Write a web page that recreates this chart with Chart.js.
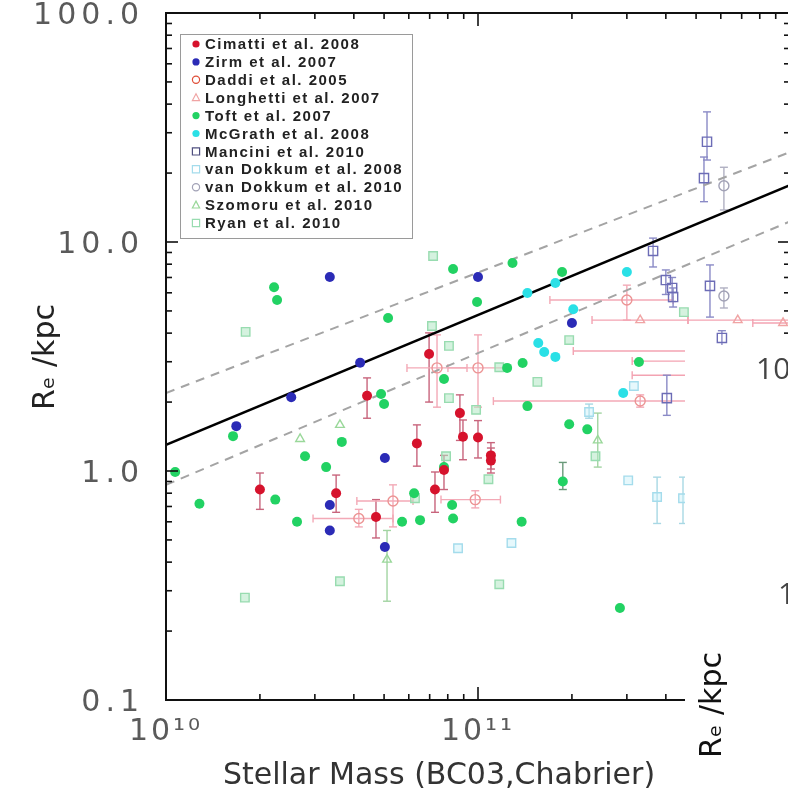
<!DOCTYPE html>
<html>
<head>
<meta charset="utf-8">
<style>
html,body{margin:0;padding:0;overflow:hidden;background:#fff;width:788px;height:801px}
canvas{display:block}
</style>
<script src="https://cdn.jsdelivr.net/npm/chart.js@4.4.1/dist/chart.umd.min.js"></script>
</head>
<body>
<canvas id="c" width="800" height="801"></canvas>
<script>
// ---- axis ticks / labels ----
const xTickValues = [1e10, 1e11, 1e12];
const xTickLabels = ['10¹⁰', '10¹¹', '10¹²'];
const yTickValues = [0.1, 1, 10, 100];
const yTickLabels = ['0.1', '1.0', '10.0', '100.0'];
const minorMult = [2, 3, 4, 5, 6, 7, 8, 9];

// ---- size-mass relation (endpoints) ----
const relMass  = [1e10, 1e12];
const relSolid = [1.30, 17.7];
const relUpper = [2.19, 24.7];
const relLower = [0.87, 12.3];

// ---- samples: [M*, Re, Re_lo, Re_hi, M_lo, M_hi] ----
const cimatti = [
  [2.0e10, 0.83, 0.68, 0.98], [4.41e10, 2.13, 1.70, 2.55], [6.97e10, 3.24, 2.00, 4.01],
  [6.37e10, 1.32, 1.05, 1.59], [8.75e10, 1.79, 1.36, 2.15], [8.95e10, 1.41, 1.12, 1.67],
  [1.00e11, 1.40, 1.14, 1.66], [1.10e11, 1.17, 1.02, 1.33], [1.10e11, 1.11, 0.98, 1.26],
  [7.28e10, 0.83, 0.66, 0.99], [7.78e10, 1.01, 0.83, 1.17], [3.51e10, 0.80, 0.66, 0.96],
  [4.71e10, 0.63, 0.51, 0.75]
];
const zirm = [
  [3.35e10, 7.03], [1.0e11, 7.03], [4.19e10, 2.97], [2.52e10, 2.10], [1.68e10, 1.57],
  [5.03e10, 1.14], [3.35e10, 0.71], [3.35e10, 0.55], [5.03e10, 0.466], [2.0e11, 4.43]
];
const daddi = [
  [7.39e10, 2.82, 1.90, 3.93, 5.92e10, 9.22e10], [1.00e11, 2.82, 1.90, 3.93, 8.01e10, 1.22e11],
  [3.00e11, 5.58, 4.56, 6.48, 1.70e11, 4.22e11], [3.31e11, 2.02, 1.90, 2.15, 1.12e11, 8.0e11],
  [4.15e10, 0.62, 0.57, 0.68, 2.96e10, 5.34e10], [5.34e10, 0.74, 0.57, 0.87, 4.09e10, 6.19e10],
  [9.80e10, 0.75, 0.69, 0.82, 7.61e10, 1.18e11]
];
const longhetti = [
  [3.31e11, 4.56, null, null, 2.32e11, 4.71e11], [6.8e11, 4.56, null, null, 4.71e11, 1.0e12],
  [9.5e11, 4.43, null, null, 7.6e11, 1.0e12], [7.0e11, 3.34, null, null, 2.02e11, 1.0e12],
  [6.5e11, 3.02, null, null, 3.12e11, 1.0e12], [6.0e11, 2.62, null, null, 3.12e11, 1.0e12]
];
const toft = [
  [1.07e10, 0.99], [1.28e10, 0.72], [2.22e10, 6.35], [2.27e10, 5.58], [1.64e10, 1.42],
  [5.15e10, 4.66], [8.32e10, 7.62], [1.29e11, 8.09], [9.93e10, 5.47], [4.89e10, 2.17],
  [5.0e10, 1.96], [3.66e10, 1.34], [2.79e10, 1.16], [3.26e10, 1.04], [2.24e10, 0.75],
  [2.63e10, 0.60], [5.71e10, 0.60], [6.52e10, 0.61], [6.24e10, 0.80], [7.78e10, 1.04],
  [8.26e10, 0.71], [8.32e10, 0.62], [7.78e10, 2.52], [1.24e11, 2.82], [1.39e11, 2.96],
  [1.44e11, 1.92], [1.96e11, 1.60], [2.24e11, 1.52], [3.28e11, 2.99], [1.87e11, 0.90, 0.83, 1.09],
  [1.38e11, 0.60], [2.85e11, 0.252], [1.86e11, 7.40]
];
const mcgrath = [
  [3.0e11, 7.40], [1.77e11, 6.62], [1.44e11, 5.99], [2.02e11, 5.09],
  [1.56e11, 3.62], [1.63e11, 3.31], [1.77e11, 3.15], [2.92e11, 2.19]
];
const mancini = [
  [5.42e11, 27.4, 22.8, 37.0], [5.30e11, 19.0, 15.0, 23.5], [3.64e11, 9.14, 7.78, 10.4],
  [4.00e11, 6.82, 5.9, 7.55], [4.19e11, 6.30, 5.5, 7.0], [4.22e11, 5.75, 5.2, 6.3],
  [5.54e11, 6.43, 4.70, 7.94], [6.05e11, 3.81, 3.5, 4.1], [4.03e11, 2.08, 1.75, 2.62]
];
const vanDokkum08 = [
  [3.16e11, 2.35], [2.27e11, 1.81, 1.70, 1.96], [3.03e11, 0.91], [3.75e11, 0.77, 0.59, 0.94],
  [4.54e11, 0.76, 0.59, 0.94], [8.63e10, 0.46], [1.28e11, 0.485]
];
const vanDokkum10 = [[6.14e11, 17.6, 13.8, 21.2], [6.14e11, 5.81, 5.15, 6.30]];
const szomoru = [[5.11e10, 0.41, 0.27, 0.55], [3.61e10, 1.59], [2.69e10, 1.38], [2.42e11, 1.36, 1.04, 1.79]];
const ryan = [
  [1.80e10, 4.05], [7.18e10, 8.69], [7.12e10, 4.30], [8.07e10, 3.52], [8.07e10, 2.08],
  [9.86e10, 1.85], [7.9e10, 1.16], [1.79e10, 0.28], [3.61e10, 0.33], [6.28e10, 0.76],
  [1.17e11, 0.32], [1.96e11, 3.73], [1.17e11, 2.84], [1.55e11, 2.45], [1.08e11, 0.92],
  [2.38e11, 1.16], [4.57e11, 4.94]
];

function pts(arr) {
  return arr.map(p => ({ x: p[0], y: p[1],
    yMin: p[2] ?? null, yMax: p[3] ?? null, xMin: p[4] ?? null, xMax: p[5] ?? null }));
}
function sample(label, arr, style, color, filled, r, extra) {
  return Object.assign({
    label, data: pts(arr), pointStyle: style, pointRadius: r,
    borderColor: color, backgroundColor: filled ? color : 'rgba(0,0,0,0)',
    borderWidth: filled ? 0 : 1.4, legendColor: color, legendFilled: filled, inLegend: true
  }, extra || {});
}

const datasets = [
  sample('Cimatti et al. 2008', cimatti, 'circle', '#d6122c', true, 5, { errColor: '#c8647c' }),
  sample('Zirm et al. 2007', zirm, 'circle', '#2b2bb6', true, 5),
  sample('Daddi et al. 2005', daddi, 'circle', '#ec9494', false, 5, { errColor: '#f3a9b6', legendColor: '#e0503a' }),
  sample('Longhetti et al. 2007', longhetti, 'triangle', '#f0a4a4', false, 5, { errColor: '#f3a3b2' }),
  sample('Toft et al. 2007', toft, 'circle', '#22d263', true, 5, { errColor: '#6a9a7a' }),
  sample('McGrath et al. 2008', mcgrath, 'circle', '#2ae0e6', true, 5),
  sample('Mancini et al. 2010', mancini, 'rect', '#6c6cb6', false, 6.5, { errColor: '#8a8ac6', legendColor: '#505080' }),
  sample('van Dokkum et al. 2008', vanDokkum08, 'rect', '#a4dcec', false, 6, { errColor: '#a8d8e4', backgroundColor: 'rgba(200,240,248,0.45)' }),
  sample('van Dokkum et al. 2010', vanDokkum10, 'circle', '#a2a2b6', false, 5, { errColor: '#b0b0c2' }),
  sample('Szomoru et al. 2010', szomoru, 'triangle', '#9ad89a', false, 5, { errColor: '#a2d4a2' }),
  sample('Ryan et al. 2010', ryan, 'rect', '#98dcb0', false, 6, { backgroundColor: 'rgba(178,232,196,0.55)' }),
  { label: 'relation', data: relMass.map((m, i) => ({ x: m, y: relSolid[i] })), showLine: true,
    borderColor: '#000', borderWidth: 2.6, pointRadius: 0, order: 10 },
  { label: 'relation +', data: relMass.map((m, i) => ({ x: m, y: relUpper[i] })), showLine: true,
    borderColor: '#a4a4a4', borderWidth: 2, borderDash: [9, 7], pointRadius: 0, order: 11 },
  { label: 'relation -', data: relMass.map((m, i) => ({ x: m, y: relLower[i] })), showLine: true,
    borderColor: '#a4a4a4', borderWidth: 2, borderDash: [9, 7], pointRadius: 0, order: 11 }
];

function seg(ctx, x1, y1, x2, y2) { ctx.beginPath(); ctx.moveTo(x1, y1); ctx.lineTo(x2, y2); ctx.stroke(); }

const errorBars = {
  id: 'errorBars',
  beforeDatasetsDraw(chart) {
    const { ctx, chartArea: a, scales: { x, y } } = chart;
    ctx.save();
    ctx.letterSpacing = '0px';
    ctx.beginPath(); ctx.rect(a.left, a.top, a.width, a.height); ctx.clip();
    chart.data.datasets.forEach(ds => {
      if (!ds.errColor) return;
      ctx.strokeStyle = ds.errColor; ctx.lineWidth = 1.4;
      ds.data.forEach(p => {
        const px = x.getPixelForValue(p.x), py = y.getPixelForValue(p.y);
        if (p.yMin != null) {
          const y1 = y.getPixelForValue(p.yMin), y2 = y.getPixelForValue(p.yMax);
          seg(ctx, px, y1, px, y2); seg(ctx, px - 4, y1, px + 4, y1); seg(ctx, px - 4, y2, px + 4, y2);
        }
        if (p.xMin != null) {
          const x1 = x.getPixelForValue(p.xMin), x2 = x.getPixelForValue(p.xMax);
          seg(ctx, x1, py, x2, py); seg(ctx, x1, py - 4, x1, py + 4); seg(ctx, x2, py - 4, x2, py + 4);
        }
      });
    });
    ctx.restore();
  }
};

// wider, IDL-like spacing of the tick labels
function spaced(scale, px) {
  if (scale._spacedWrap) return;
  const orig = scale.drawLabels.bind(scale);
  scale.drawLabels = function (ca) {
    const c = this.ctx, old = c.letterSpacing;
    c.letterSpacing = px;
    orig(ca);
    c.letterSpacing = old;
  };
  scale._spacedWrap = true;
}
const tickSpacing = {
  id: 'tickSpacing',
  beforeDraw(chart) {
    chart.ctx.letterSpacing = '0px';
    spaced(chart.scales.y, '5px');
    spaced(chart.scales.x, '3px');
  }
};

const frame = {
  id: 'frame',
  afterDatasetsDraw(chart) {
    const { ctx, chartArea: a, scales: { x, y } } = chart;
    ctx.save();
    ctx.strokeStyle = '#111'; ctx.lineWidth = 2;
    ctx.strokeRect(a.left, a.top, a.right - a.left, a.bottom - a.top);
    ctx.lineWidth = 1.6;
    for (let e = -1; e <= 2; e++) {
      [1].concat(minorMult).forEach(m => {
        const v = m * Math.pow(10, e);
        if (v > 100.0001) return;
        const py = y.getPixelForValue(v), len = m === 1 ? 12 : 6;
        seg(ctx, a.left, py, a.left + len, py); seg(ctx, a.right, py, a.right - len, py);
      });
    }
    for (let e = 10; e <= 12; e++) {
      [1].concat(minorMult).forEach(m => {
        const v = m * Math.pow(10, e);
        if (v > 1.0001e12) return;
        const px = x.getPixelForValue(v), len = m === 1 ? 13 : 6;
        seg(ctx, px, a.bottom, px, a.bottom - len); seg(ctx, px, a.top, px, a.top + len);
      });
    }
    ctx.restore();
  }
};

function marker(ctx, style, cx, cy, r, color, filled) {
  ctx.beginPath();
  if (style === 'circle') ctx.arc(cx, cy, r, 0, 2 * Math.PI);
  else if (style === 'rect') ctx.rect(cx - r, cy - r, 2 * r, 2 * r);
  else { ctx.moveTo(cx, cy - r * 1.1); ctx.lineTo(cx + r, cy + r * 0.8); ctx.lineTo(cx - r, cy + r * 0.8); ctx.closePath(); }
  if (filled) { ctx.fillStyle = color; ctx.fill(); }
  else { ctx.strokeStyle = color; ctx.lineWidth = 1.2; ctx.stroke(); }
}

const decor = {
  id: 'decor',
  afterDraw(chart) {
    const ctx = chart.ctx;
    ctx.save();
    // legend
    ctx.fillStyle = '#fff';
    ctx.fillRect(180, 34, 232, 204);
    ctx.strokeStyle = '#9a9a9a'; ctx.lineWidth = 1;
    ctx.strokeRect(180.5, 34.5, 232, 204);
    ctx.letterSpacing = '1.5px';
    ctx.font = 'bold 15px "Liberation Sans", Arial, sans-serif';
    ctx.textBaseline = 'middle'; ctx.textAlign = 'left';
    chart.data.datasets.filter(d => d.inLegend).forEach((d, i) => {
      const ly = 44 + i * 17.9;
      marker(ctx, d.pointStyle, 196, ly, 3.6, d.legendColor, d.legendFilled);
      ctx.fillStyle = '#222';
      ctx.fillText(d.label, 205, ly + 1);
    });
    ctx.letterSpacing = '0px';
    // axis titles
    ctx.fillStyle = '#333';
    ctx.font = '30px "DejaVu Sans", sans-serif';
    ctx.textAlign = 'center'; ctx.textBaseline = 'middle';
    ctx.fillText('Stellar Mass (BC03,Chabrier)', 439, 776);
    ctx.save();
    ctx.translate(46, 357); ctx.rotate(-Math.PI / 2);
    ctx.fillStyle = '#222';
    ctx.fillText('Rₑ /kpc', 0, 0);
    ctx.restore();
    // neighbouring panel pasted over the lower right corner
    ctx.fillStyle = '#fff';
    ctx.fillRect(685, 345, 120, 460);
    ctx.fillStyle = '#444';
    ctx.font = '30px "Open Sans", sans-serif';
    ctx.textAlign = 'left';
    ctx.fillText('10', 756, 370);
    ctx.fillText('1', 778, 595);
    ctx.save();
    ctx.translate(713, 705); ctx.rotate(-Math.PI / 2);
    ctx.fillStyle = '#111';
    ctx.font = '30px "DejaVu Sans", sans-serif';
    ctx.textAlign = 'center';
    ctx.fillText('Rₑ /kpc', 0, 0);
    ctx.restore();
    ctx.restore();
  }
};

const tickFont = { family: '"DejaVu Sans", sans-serif', size: 30 };

new Chart(document.getElementById('c'), {
  type: 'scatter',
  data: { datasets },
  options: {
    responsive: false, animation: false, devicePixelRatio: 1,
    layout: { padding: { top: 13, right: 10, left: 0, bottom: 0 } },
    plugins: { legend: { display: false }, tooltip: { enabled: false } },
    scales: {
      x: {
        type: 'logarithmic', position: 'bottom', min: 1e10, max: 1e12,
        grid: { display: false, drawTicks: false }, border: { display: false },
        afterBuildTicks: s => { s.ticks = xTickValues.map(v => ({ value: v })); },
        afterFit: s => { s.height = 101; s.paddingLeft = 0; s.paddingRight = 0; },
        ticks: { autoSkip: false, maxRotation: 0, minRotation: 0, padding: 14, font: tickFont, color: '#5a5a5a',
          callback: (v, i) => xTickLabels[i] }
      },
      y: {
        type: 'logarithmic', position: 'left', min: 0.1, max: 100,
        grid: { display: false, drawTicks: false }, border: { display: false },
        afterBuildTicks: s => { s.ticks = yTickValues.map(v => ({ value: v })); },
        afterFit: s => { s.width = 166; s.paddingTop = 0; s.paddingBottom = 0; },
        ticks: { autoSkip: false, padding: 22, labelOffset: 3, font: tickFont, color: '#5a5a5a',
          callback: (v, i) => yTickLabels[i] }
      }
    }
  },
  plugins: [tickSpacing, errorBars, frame, decor]
});
</script>
</body>
</html>
